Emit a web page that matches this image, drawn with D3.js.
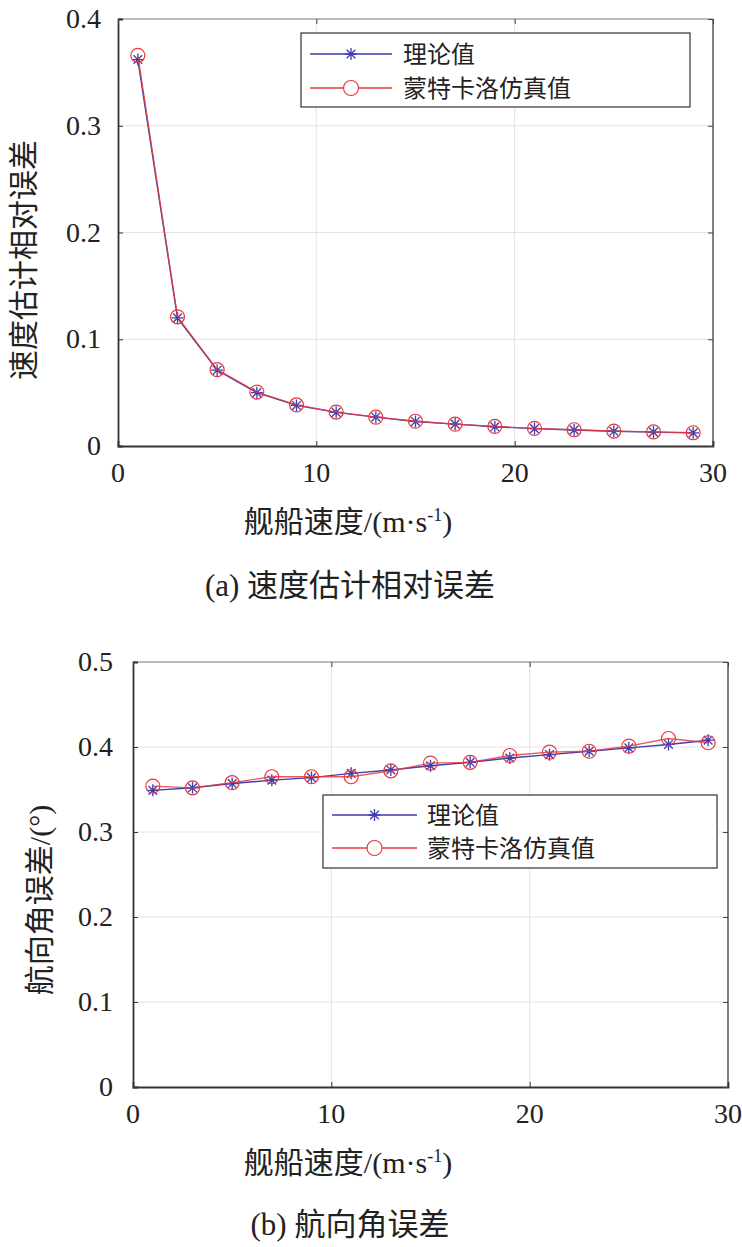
<!DOCTYPE html>
<html>
<head>
<meta charset="utf-8">
<script src="https://cdn.jsdelivr.net/npm/d3@7"></script>
<style>
  html, body { margin: 0; padding: 0; background: #fff; }
  svg { display: block; }
  .cjk { font-family: "Noto Sans CJK SC", sans-serif; fill: #222; }
  .num { font-family: "Liberation Serif", "DejaVu Serif", serif; font-size: 28px; fill: #222; }
</style>
</head>
<body>
<svg id="chart" width="742" height="1247"></svg>
<script>
// Ship speed samples (m/s)
const speeds = [1, 3, 5, 7, 9, 11, 13, 15, 17, 19, 21, 23, 25, 27, 29];

// (a) relative error of speed estimate
const speedErrTheory = [0.362, 0.120, 0.071, 0.050, 0.038, 0.0315, 0.027, 0.023, 0.0205, 0.018, 0.0163, 0.015, 0.0138, 0.013, 0.0123];
const speedErrSim = [0.366, 0.121, 0.0715, 0.0505, 0.0385, 0.0318, 0.027, 0.0232, 0.0205, 0.0183, 0.0165, 0.0152, 0.014, 0.0132, 0.0124];

// (b) heading angle error (deg)
const headingErrTheory = [0.349, 0.352, 0.357, 0.361, 0.364, 0.369, 0.373, 0.378, 0.382, 0.387, 0.391, 0.395, 0.399, 0.403, 0.408];
const headingErrSim = [0.354, 0.352, 0.358, 0.365, 0.365, 0.365, 0.372, 0.381, 0.382, 0.390, 0.394, 0.395, 0.401, 0.410, 0.405];

const xTicks = [0, 10, 20, 30];
const speedYTicks = [0, 0.1, 0.2, 0.3, 0.4];
const headingYTicks = [0, 0.1, 0.2, 0.3, 0.4, 0.5];
const seriesNames = ['理论值', '蒙特卡洛仿真值'];

const BLUE = '#3d3db0';
const RED = '#e8383d';
const SERIF = '"Liberation Serif", "DejaVu Serif", serif';

const svg = d3.select('#chart');

function starPath(r) {
  const d = r * 0.72;
  return `M${-r},0L${r},0M0,${-r}L0,${r}M${-d},${-d}L${d},${d}M${-d},${d}L${d},${-d}`;
}

function drawPanel(cfg) {
  const g = svg.append('g');
  const x = d3.scaleLinear().domain([0, 30]).range([cfg.left, cfg.right]);
  const y = d3.scaleLinear().domain(cfg.yDomain).range([cfg.bottom, cfg.top]);

  // Grid
  g.append('g').selectAll('line')
    .data(xTicks.slice(1, -1)).join('line')
    .attr('x1', (d) => x(d)).attr('x2', (d) => x(d))
    .attr('y1', cfg.top).attr('y2', cfg.bottom)
    .attr('stroke', '#e2e2e2').attr('stroke-width', 1);
  g.append('g').selectAll('line')
    .data(cfg.yTicks.slice(1, -1)).join('line')
    .attr('x1', cfg.left).attr('x2', cfg.right)
    .attr('y1', (d) => y(d)).attr('y2', (d) => y(d))
    .attr('stroke', '#e2e2e2').attr('stroke-width', 1);

  // Frame
  g.append('line').attr('x1', cfg.left).attr('x2', cfg.right).attr('y1', cfg.top).attr('y2', cfg.top)
    .attr('stroke', '#777').attr('stroke-width', 1.2);
  g.append('line').attr('x1', cfg.right).attr('x2', cfg.right).attr('y1', cfg.top).attr('y2', cfg.bottom)
    .attr('stroke', '#555').attr('stroke-width', 1.5);

  // Axes with inward ticks
  const xAxis = d3.axisBottom(x).tickValues(xTicks).tickSize(-5).tickFormat('');
  const yAxis = d3.axisLeft(y).tickValues(cfg.yTicks).tickSize(-5).tickFormat('');
  const xa = g.append('g').attr('transform', `translate(0,${cfg.bottom})`).call(xAxis);
  const ya = g.append('g').attr('transform', `translate(${cfg.left},0)`).call(yAxis);
  [xa, ya].forEach((a) => {
    a.select('.domain').attr('stroke', '#333').attr('stroke-width', 1.8);
    a.selectAll('.tick line').attr('stroke', '#333');
  });
  // mirrored ticks on right/top
  g.append('g').attr('transform', `translate(${cfg.right},0)`)
    .call(d3.axisRight(y).tickValues(cfg.yTicks).tickSize(-5).tickFormat(''))
    .call((s) => s.select('.domain').remove())
    .selectAll('.tick line').attr('stroke', '#444');
  g.append('g').attr('transform', `translate(0,${cfg.top})`)
    .call(d3.axisTop(x).tickValues(xTicks).tickSize(-5).tickFormat(''))
    .call((s) => s.select('.domain').remove())
    .selectAll('.tick line').attr('stroke', '#444');

  // Tick labels
  g.append('g').selectAll('text')
    .data(xTicks).join('text')
    .attr('class', 'num')
    .attr('x', (d) => x(d)).attr('y', cfg.bottom + 36)
    .attr('text-anchor', 'middle')
    .text((d) => d);
  g.append('g').selectAll('text')
    .data(cfg.yTicks).join('text')
    .attr('class', 'num')
    .attr('x', cfg.left - cfg.yLabelGap).attr('y', (d) => y(d) + 9)
    .attr('text-anchor', 'end')
    .text((d) => (d === 0 ? '0' : d3.format('.1f')(d)));

  // Lines + markers
  const line = d3.line().x((d) => x(d[0])).y((d) => y(d[1]));
  const theory = speeds.map((s, i) => [s, cfg.theory[i]]);
  const sim = speeds.map((s, i) => [s, cfg.sim[i]]);

  g.append('path').datum(theory).attr('d', line)
    .attr('fill', 'none').attr('stroke', BLUE).attr('stroke-width', 1.4);
  g.append('g').selectAll('path')
    .data(theory).join('path')
    .attr('transform', (d) => `translate(${x(d[0])},${y(d[1])})`)
    .attr('d', starPath(6))
    .attr('stroke', BLUE).attr('stroke-width', 1.3).attr('fill', 'none');

  g.append('path').datum(sim).attr('d', line)
    .attr('fill', 'none').attr('stroke', RED).attr('stroke-width', 1.3).attr('stroke-opacity', 0.85);
  g.append('g').selectAll('circle')
    .data(sim).join('circle')
    .attr('cx', (d) => x(d[0])).attr('cy', (d) => y(d[1]))
    .attr('r', 7)
    .attr('stroke', RED).attr('stroke-width', 1.2).attr('fill', 'none');

  // Legend
  const lg = svg.append('g');
  const L = cfg.legend;
  lg.append('rect')
    .attr('x', L.x).attr('y', L.y).attr('width', L.w).attr('height', L.h)
    .attr('fill', '#fff').attr('stroke', '#333').attr('stroke-width', 1.2);
  const rows = [
    { name: seriesNames[0], color: BLUE, marker: 'star' },
    { name: seriesNames[1], color: RED, marker: 'circle' }
  ];
  rows.forEach((r, i) => {
    const cy = L.y + L.row0 + i * L.rowGap;
    lg.append('line')
      .attr('x1', L.x + 9).attr('x2', L.x + 9 + L.lineLen)
      .attr('y1', cy).attr('y2', cy)
      .attr('stroke', r.color).attr('stroke-width', 1.3);
    const mx = L.x + 9 + L.lineLen / 2;
    if (r.marker === 'star') {
      lg.append('path').attr('transform', `translate(${mx},${cy})`).attr('d', starPath(6))
        .attr('stroke', r.color).attr('stroke-width', 1.3).attr('fill', 'none');
    } else {
      lg.append('circle').attr('cx', mx).attr('cy', cy).attr('r', 7.5)
        .attr('stroke', r.color).attr('stroke-width', 1.2).attr('fill', '#fff');
    }
    lg.append('text').attr('class', 'cjk')
      .attr('x', L.x + L.textX).attr('y', cy + 9)
      .style('font-size', '24px')
      .text(r.name);
  });

  // Axis titles
  const xt = svg.append('text').attr('class', 'cjk')
    .attr('x', 348).attr('y', cfg.xTitleY)
    .attr('text-anchor', 'middle')
    .style('font-size', '30px');
  xt.append('tspan').text('舰船速度');
  xt.append('tspan').style('font-family', SERIF).text('/(m·s');
  xt.append('tspan').style('font-family', SERIF).attr('dy', -11).style('font-size', '18px').text('-1');
  xt.append('tspan').style('font-family', SERIF).attr('dy', 11).text(')');

  const yt = svg.append('text').attr('class', 'cjk')
    .attr('transform', `translate(${cfg.yTitleX},${cfg.yTitleCY}) rotate(-90)`)
    .attr('text-anchor', 'middle')
    .style('font-size', '30px');
  yt.append('tspan').text(cfg.yTitle);
  if (cfg.yTitleUnit) yt.append('tspan').style('font-family', SERIF).text(cfg.yTitleUnit);

  // Caption
  const cap = svg.append('text').attr('class', 'cjk')
    .attr('x', 350).attr('y', cfg.captionY)
    .attr('text-anchor', 'middle')
    .style('font-size', '31px');
  cap.append('tspan').style('font-family', SERIF).text(cfg.captionTag + '\u00a0');
  cap.append('tspan').text(cfg.caption);
}

drawPanel({
  left: 118, right: 713, top: 19, bottom: 446,
  yDomain: [0, 0.4], yTicks: speedYTicks, yLabelGap: 17,
  theory: speedErrTheory, sim: speedErrSim,
  legend: { x: 301, y: 33, w: 389, h: 74, row0: 21, rowGap: 34, lineLen: 82, textX: 102 },
  xTitleY: 532, yTitleX: 34, yTitleCY: 260, yTitle: '速度估计相对误差',
  captionY: 596, captionTag: '(a)', caption: '速度估计相对误差'
});

drawPanel({
  left: 133, right: 728, top: 662, bottom: 1087,
  yDomain: [0, 0.5], yTicks: headingYTicks, yLabelGap: 20,
  theory: headingErrTheory, sim: headingErrSim,
  legend: { x: 323, y: 795, w: 394, h: 73, row0: 20, rowGap: 33, lineLen: 85, textX: 104 },
  xTitleY: 1173, yTitleX: 50, yTitleCY: 900, yTitle: '航向角误差', yTitleUnit: '/(°)',
  captionY: 1235, captionTag: '(b)', caption: '航向角误差'
});
</script>
</body>
</html>
